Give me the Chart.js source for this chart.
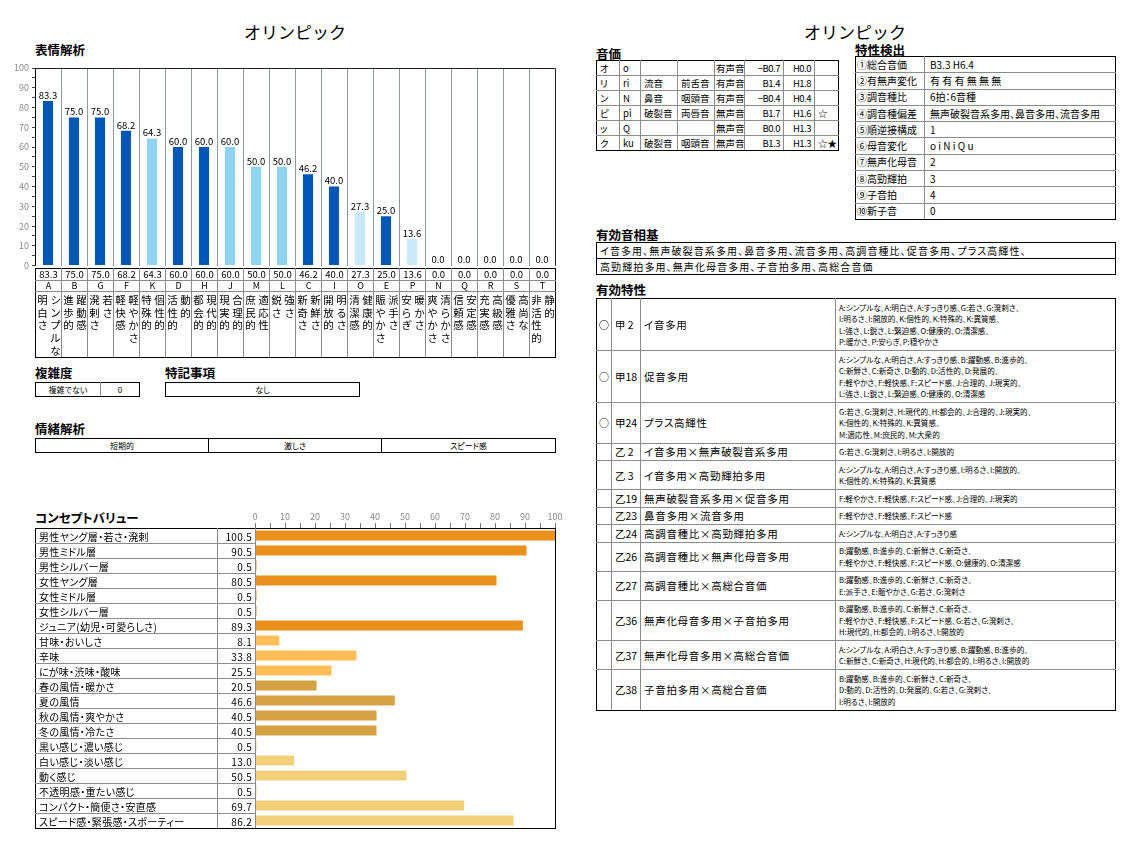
<!DOCTYPE html>
<html lang="ja">
<head>
<meta charset="utf-8">
<script src="https://cdn.jsdelivr.net/npm/chart.js@4.4.0/dist/chart.umd.min.js"></script>
<style>
  body { margin: 0; width: 1144px; height: 858px; background: #fff; position: relative; overflow: hidden;
         font-family: "Noto Sans CJK JP", "Noto Sans", sans-serif; color: #000; font-feature-settings: "palt"; }
  .t { position: absolute; white-space: nowrap; }
  .title { font-size: 17px; line-height: 20px; width: 200px; text-align: center; font-feature-settings: normal; }
  .sec { font-size: 12.5px; line-height: 14px; font-weight: bold; }
  canvas { position: absolute; }
  table { position: absolute; border-collapse: collapse; table-layout: fixed; }
  td { padding: 0; border: 1px solid #8c8c8c; overflow: hidden; white-space: nowrap; vertical-align: middle; }
  .box tr:first-child td { border-top-color: #000; }
  .box tr:last-child td { border-bottom-color: #000; }
  .box td:first-child { border-left-color: #000; }
  .box td:last-child { border-right-color: #000; }
  .black td { border-color: #000; }
  .c { text-align: center; }
  .r { text-align: right; padding-right: 3px; }
  .l { padding-left: 3px; }
  .vcol { display: inline-block; width: 13px; vertical-align: top; text-align: center; }
  .vcol span { display: block; line-height: 12.7px; height: 12.7px; }
</style>
</head>
<body>
<div class="t title" style="left:195px; top:22px;">オリンピック</div>
<div class="t title" style="left:755px; top:22px;">オリンピック</div>
<div class="t sec" style="left:35px; top:43px;">表情解析</div>
<div class="t sec" style="left:35px; top:366px;">複雑度</div>
<div class="t sec" style="left:165px; top:366px;">特記事項</div>
<div class="t sec" style="left:35px; top:422px;">情緒解析</div>
<div class="t sec" style="left:35px; top:511px;">コンセプトバリュー</div>
<div class="t sec" style="left:596px; top:47px;">音価</div>
<div class="t sec" style="left:855px; top:43px;">特性検出</div>
<div class="t sec" style="left:596px; top:228px;">有効音相基</div>
<div class="t sec" style="left:596px; top:283px;">有効特性</div>

<canvas id="expChart" width="565" height="216" style="left:0; top:58px;"></canvas>
<canvas id="conceptChart" width="320" height="322" style="left:245px; top:506px;"></canvas>

<script>
// 表情解析
const expCats = ['A', 'B', 'G', 'F', 'K', 'D', 'H', 'J', 'M', 'L', 'C', 'I', 'O', 'E', 'P', 'N', 'Q', 'R', 'S', 'T'];
const expValues = [83.3, 75.0, 75.0, 68.2, 64.3, 60.0, 60.0, 60.0, 50.0, 50.0, 46.2, 40.0, 27.3, 25.0, 13.6, 0.0, 0.0, 0.0, 0.0, 0.0];
const expWordsLeft = ['明白さ', '進歩的', '溌剌さ', '軽快感', '特殊的', '活性的', '都会的', '現実的', '庶民的', '鋭さ',
                      '新奇さ', '開放的', '清潔感', '賑やかさ', '安らぎ', '爽やかさ', '信頼感', '充実感', '優雅さ', '非活性的'];
const expWordsRight = ['シンプルな', '躍動感', '若さ', '軽やかさ', '個性的', '動的', '現代的', '合理的', '適応性', '強さ',
                       '新鮮さ', '明るさ', '健康的', '派手さ', '暖かさ', '清らかさ', '安定感', '高級感', '高尚な', '静的'];

// 複雑度・特記事項・情緒解析
const complexity = ['複雑でない', '0'];
const notes = ['なし'];
const emotions = ['短期的', '激しさ', 'スピード感'];

// コンセプトバリュー
const conceptLabels = ['男性ヤング層・若さ・溌剌', '男性ミドル層', '男性シルバー層', '女性ヤング層', '女性ミドル層', '女性シルバー層',
                       'ジュニア(幼児・可愛らしさ)', '甘味・おいしさ', '辛味', 'にが味・渋味・酸味', '春の風情・暖かさ', '夏の風情',
                       '秋の風情・爽やかさ', '冬の風情・冷たさ', '黒い感じ・濃い感じ', '白い感じ・淡い感じ', '動く感じ',
                       '不透明感・重たい感じ', 'コンパクト・簡便さ・安直感', 'スピード感・緊張感・スポーティー'];
const conceptValues = [100.5, 90.5, 0.5, 80.5, 0.5, 0.5, 89.3, 8.1, 33.8, 25.5, 20.5, 46.6, 40.5, 40.5, 0.5, 13.0, 50.5, 0.5, 69.7, 86.2];
const conceptGroupSizes = [7, 3, 4, 6];

// 音価
const onkaKana = ['オ', 'リ', 'ン', 'ピ', 'ッ', 'ク'];
const onkaRoma = ['o', 'ri', 'N', 'pi', 'Q', 'ku'];
const onkaManner = ['', '流音', '鼻音', '破裂音', '', '破裂音'];
const onkaPlace = ['', '前舌音', '咽頭音', '両唇音', '', '咽頭音'];
const onkaVoice = ['有声音', '有声音', '有声音', '無声音', '無声音', '無声音'];
const onkaB = ['−B0.7', 'B1.4', '−B0.4', 'B1.7', 'B0.0', 'B1.3'];
const onkaH = ['H0.0', 'H1.8', 'H0.4', 'H1.6', 'H1.3', 'H1.3'];
const onkaStar = ['', '', '', '☆', '', '☆★'];

// 特性検出
const tokuseiKeys = ['①総合音価', '②有無声変化', '③調音種比', '④調音種偏差', '⑤順逆接構成', '⑥母音変化', '⑦無声化母音', '⑧高勁輝拍', '⑨子音拍', '⑩新子音'];
const tokuseiVals = ['B3.3 H6.4', '有 有 有 無 無 無', '6拍：6音種', '無声破裂音系多用、鼻音多用、流音多用', '1', 'o i N i Q u', '2', '3', '4', '0'];

// 有効音相基
const kisoLines = ['イ音多用、無声破裂音系多用、鼻音多用、流音多用、高調音種比、促音多用、プラス高輝性、',
                   '高勁輝拍多用、無声化母音多用、子音拍多用、高総合音価'];

// 有効特性
const effMarks = ['○', '○', '○', '', '', '', '', '', '', '', '', '', ''];
const effCodes = ['甲 2', '甲18', '甲24', '乙 2', '乙 3', '乙19', '乙23', '乙24', '乙26', '乙27', '乙36', '乙37', '乙38'];
const effNames = ['イ音多用', '促音多用', 'プラス高輝性', 'イ音多用×無声破裂音系多用', 'イ音多用×高勁輝拍多用', '無声破裂音系多用×促音多用',
                  '鼻音多用×流音多用', '高調音種比×高勁輝拍多用', '高調音種比×無声化母音多用', '高調音種比×高総合音価',
                  '無声化母音多用×子音拍多用', '無声化母音多用×高総合音価', '子音拍多用×高総合音価'];
const effDescs = [
  ['A:シンプルな、A:明白さ、A:すっきり感、G:若さ、G:溌剌さ、', 'I:明るさ、I:開放的、K:個性的、K:特殊的、K:異質感、', 'L:強さ、L:鋭さ、L:緊迫感、O:健康的、O:清潔感、', 'P:暖かさ、P:安らぎ、P:穏やかさ'],
  ['A:シンプルな、A:明白さ、A:すっきり感、B:躍動感、B:進歩的、', 'C:新鮮さ、C:新奇さ、D:動的、D:活性的、D:発展的、', 'F:軽やかさ、F:軽快感、F:スピード感、J:合理的、J:現実的、', 'L:強さ、L:鋭さ、L:緊迫感、O:健康的、O:清潔感'],
  ['G:若さ、G:溌剌さ、H:現代的、H:都会的、J:合理的、J:現実的、', 'K:個性的、K:特殊的、K:異質感、', 'M:適応性、M:庶民的、M:大衆的'],
  ['G:若さ、G:溌剌さ、I:明るさ、I:開放的'],
  ['A:シンプルな、A:明白さ、A:すっきり感、I:明るさ、I:開放的、', 'K:個性的、K:特殊的、K:異質感'],
  ['F:軽やかさ、F:軽快感、F:スピード感、J:合理的、J:現実的'],
  ['F:軽やかさ、F:軽快感、F:スピード感'],
  ['A:シンプルな、A:明白さ、A:すっきり感'],
  ['B:躍動感、B:進歩的、C:新鮮さ、C:新奇さ、', 'F:軽やかさ、F:軽快感、F:スピード感、O:健康的、O:清潔感'],
  ['B:躍動感、B:進歩的、C:新鮮さ、C:新奇さ、', 'E:派手さ、E:賑やかさ、G:若さ、G:溌剌さ'],
  ['B:躍動感、B:進歩的、C:新鮮さ、C:新奇さ、', 'F:軽やかさ、F:軽快感、F:スピード感、G:若さ、G:溌剌さ、', 'H:現代的、H:都会的、I:明るさ、I:開放的'],
  ['A:シンプルな、A:明白さ、A:すっきり感、B:躍動感、B:進歩的、', 'C:新鮮さ、C:新奇さ、H:現代的、H:都会的、I:明るさ、I:開放的'],
  ['B:躍動感、B:進歩的、C:新鮮さ、C:新奇さ、', 'D:動的、D:活性的、D:発展的、G:若さ、G:溌剌さ、', 'I:明るさ、I:開放的']
];

const FONT = '"Noto Sans CJK JP", "Noto Sans", sans-serif';

// 表の組み立て
function makeTable(cls, x, y, widths, rows, rowH, cellStyle) {
  const t = document.createElement('table');
  t.className = cls;
  t.style.left = x + 'px';
  t.style.top = y + 'px';
  t.style.width = widths.reduce((a, b) => a + b, 0) + 'px';
  const cg = document.createElement('colgroup');
  widths.forEach(w => {
    const c = document.createElement('col');
    c.style.width = w + 'px';
    cg.appendChild(c);
  });
  t.appendChild(cg);
  rows.forEach((r, ri) => {
    const tr = t.insertRow();
    const h = Array.isArray(rowH) ? rowH[ri] : rowH;
    if (h) tr.style.height = h + 'px';
    r.forEach((v, ci) => {
      const td = tr.insertCell();
      td.innerHTML = v;
      if (cellStyle) cellStyle(td, ri, ci);
    });
  });
  document.body.appendChild(t);
  return t;
}

// 表情解析の下の表
const vcol = s => '<div class="vcol">' + [...s].map(ch => '<span>' + ch + '</span>').join('') + '</div>';
makeTable('box', 35, 268, expCats.map(() => 26), [
  expValues.map(v => v.toFixed(1)),
  expCats,
  expCats.map((c, i) => vcol(expWordsLeft[i]) + vcol(expWordsRight[i]))
], [12, 11, 66], (td, ri) => {
  td.className = 'c';
  if (ri === 0) { td.style.fontSize = '9.5px'; td.style.lineHeight = '11px'; }
  if (ri === 1) { td.style.fontSize = '9px'; td.style.lineHeight = '10px'; }
  if (ri === 2) { td.style.fontSize = '10.5px'; td.style.verticalAlign = 'top'; td.style.paddingTop = '2px'; td.style.textAlign = 'left'; }
});

makeTable('box', 35, 382, [65, 39], [complexity], 14, td => { td.className = 'c'; td.style.fontSize = '8px'; td.style.lineHeight = '12px'; });
makeTable('box', 165, 382, [194], [notes], 14, td => { td.className = 'c'; td.style.fontSize = '8px'; td.style.lineHeight = '12px'; });
makeTable('box black', 35, 438, [173, 173, 174], [emotions], 14, td => { td.className = 'c'; td.style.fontSize = '8px'; td.style.lineHeight = '12px'; });

// コンセプトバリューの表(ラベルと値)
makeTable('box', 35, 528, [182, 38, 300],
  conceptLabels.map((l, i) => [l, conceptValues[i].toFixed(1), '']), 15, (td, ri, ci) => {
    td.style.fontSize = '10px';
    td.style.lineHeight = '13px';
    td.style.letterSpacing = '0.3px';
    if (ci === 0) td.className = 'l';
    if (ci === 1) td.className = 'r';
    if (ci === 2) {
      td.style.borderTopStyle = ri === 0 ? 'solid' : 'none';
      td.style.borderBottomStyle = ri === conceptLabels.length - 1 ? 'solid' : 'none';
    }
  });

// 音価
makeTable('box', 596, 60, [23, 21, 37, 37, 30, 39, 31, 24],
  onkaKana.map((k, i) => [k, onkaRoma[i], onkaManner[i], onkaPlace[i], onkaVoice[i], onkaB[i], onkaH[i], onkaStar[i]]), 15,
  (td, ri, ci) => {
    td.style.fontSize = '9.5px';
    td.style.lineHeight = '13px';
    td.className = (ci === 5 || ci === 6) ? 'r' : 'l';
    if (ci === 4) td.style.paddingLeft = '1px';
    if (ci === 5 || ci === 6) td.style.letterSpacing = '-0.5px';
  });

// 特性検出
makeTable('box', 855, 56, [69, 191], tokuseiKeys.map((k, i) => [k, tokuseiVals[i]]), 16.3, (td, ri, ci) => {
  td.style.fontSize = '10px';
  td.style.lineHeight = '14px';
  td.className = 'l';
  if (ci === 1) td.style.paddingLeft = '5px';
  if (ci === 0) td.style.paddingLeft = '1px';
});

// 有効音相基
makeTable('box black', 596, 242, [519], kisoLines.map(l => [l]), 16, td => {
  td.style.fontSize = '10px';
  td.style.lineHeight = '14px';
  td.style.letterSpacing = '1.1px';
  td.className = 'l';
});

// 有効特性
makeTable('box', 596, 298, [15, 29, 195, 280],
  effCodes.map((c, i) => [effMarks[i], c, effNames[i], effDescs[i].join('<br>')]), null, (td, ri, ci) => {
    td.className = 'l';
    if (ci === 0) { td.style.fontSize = '10px'; td.style.paddingLeft = '2px'; }
    if (ci === 1) { td.style.fontSize = '10.5px'; }
    if (ci === 2) { td.style.fontSize = '10.5px'; td.style.letterSpacing = '0.7px'; }
    if (ci === 3) {
      td.style.fontSize = '7.6px';
      td.style.lineHeight = '11.5px';
      td.style.padding = '2.5px 3px';
    }
  });

// 表情解析のグラフ
const lightSet = ['K', 'J', 'M', 'L'];
const paleSet = ['O', 'P'];
const expColors = expCats.map(c => lightSet.includes(c) ? '#8fd3f5' : paleSet.includes(c) ? '#c9e9f8' : '#0057b8');

const frame = {
  id: 'frame',
  afterDraw(chart) {
    const { left, top, right, bottom } = chart.chartArea;
    const ctx = chart.ctx;
    ctx.save();
    ctx.strokeStyle = '#222';
    ctx.lineWidth = 1;
    ctx.beginPath();
    ctx.moveTo(left, Math.round(top) + 0.5);
    ctx.lineTo(Math.round(right) + 0.5, Math.round(top) + 0.5);
    ctx.lineTo(Math.round(right) + 0.5, bottom);
    ctx.stroke();
    ctx.restore();
  }
};

const barValues = {
  id: 'barValues',
  afterDatasetsDraw(chart) {
    const ctx = chart.ctx;
    ctx.save();
    ctx.font = '9.5px ' + FONT;
    ctx.fillStyle = '#000';
    ctx.textAlign = 'center';
    ctx.textBaseline = 'bottom';
    chart.getDatasetMeta(0).data.forEach((bar, i) => {
      ctx.fillText(expValues[i].toFixed(1), bar.x, bar.y - 1);
    });
    ctx.restore();
  }
};

new Chart(document.getElementById('expChart'), {
  type: 'bar',
  data: {
    labels: expCats,
    datasets: [{ data: expValues, backgroundColor: expColors, barPercentage: 0.39, categoryPercentage: 1 }]
  },
  options: {
    responsive: false,
    animation: false,
    layout: { padding: { top: 10, right: 10, bottom: 6, left: 0 } },
    plugins: { legend: { display: false }, tooltip: { enabled: false } },
    scales: {
      x: {
        afterFit: s => { s.height = 0; },
        ticks: { display: false },
        grid: { color: '#8e9a9a', drawTicks: false, offset: true },
        border: { display: false }
      },
      y: {
        min: 0, max: 100,
        afterFit: s => { s.width = 35; },
        ticks: { stepSize: 5, autoSkip: false, padding: 3, color: '#8a8a8a', font: { size: 9, family: FONT },
                 callback: v => v % 10 === 0 ? v : '' },
        grid: { drawOnChartArea: false, tickLength: 3, color: '#444' },
        border: { color: '#000' }
      }
    }
  },
  plugins: [frame, barValues]
});

// コンセプトバリューのグラフ
const groupColors = ['#e8901a', '#fdbd57', '#d4a242', '#f2d07a'];
const conceptColors = [];
conceptGroupSizes.forEach((n, g) => { for (let k = 0; k < n; k++) conceptColors.push(groupColors[g]); });

new Chart(document.getElementById('conceptChart'), {
  type: 'bar',
  data: {
    labels: conceptLabels,
    datasets: [{ data: conceptValues, backgroundColor: conceptColors, barPercentage: 0.66, categoryPercentage: 1 }]
  },
  options: {
    indexAxis: 'y',
    responsive: false,
    animation: false,
    layout: { padding: { left: 10, right: 10, top: 0, bottom: 0 } },
    plugins: { legend: { display: false }, tooltip: { enabled: false } },
    scales: {
      x: {
        position: 'top',
        min: 0, max: 100,
        afterFit: s => { s.height = 22; },
        ticks: { stepSize: 5, autoSkip: false, maxRotation: 0, padding: 1, color: '#8a8a8a', font: { size: 9, family: FONT },
                 callback: v => v % 10 === 0 ? v : '' },
        grid: { drawOnChartArea: false, tickLength: 5, color: '#777' },
        border: { color: '#000' }
      },
      y: { display: false }
    }
  }
});
</script>
</body>
</html>
